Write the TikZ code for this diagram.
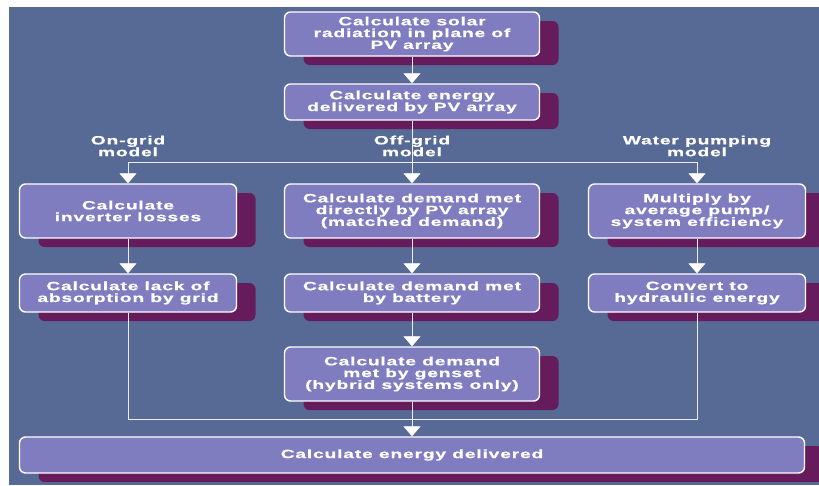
\documentclass[tikz,border=0pt]{standalone}
\usepackage{fontspec}
\setsansfont{Liberation Sans}[FakeStretch=1.6,LetterSpace=7,FakeBold=0.8]
\usepackage{tikz}
\usetikzlibrary{arrows,arrows.meta,shadows}
\definecolor{slate}{RGB}{86,106,149}
\definecolor{lilac}{RGB}{128,124,192}
\definecolor{plum}{RGB}{102,28,92}
\definecolor{pale}{RGB}{236,238,245}

\begin{document}
\begin{tikzpicture}[x=1pt,y=-1pt,node distance=68pt,
  every node/.style={font=\sffamily\bfseries\fontsize{12}{11.8}\selectfont,text=white,align=center,inner sep=0pt},
  main node/.style={rectangle,rounded corners=6pt,draw=white,line width=1.4pt,fill=lilac,minimum width=255pt,minimum height=38pt,
    drop shadow={shadow xshift=19pt,shadow yshift=-9pt,fill=plum,opacity=1}},
  side node/.style={main node,minimum width=217pt},
  model label/.style={},
  link/.style={color=pale,line width=0.8pt},
  flow/.style={link,-{Triangle[width=17pt,length=10pt,fill=white,color=white]}}]

  \useasboundingbox (0,0) rectangle (819,485);
  \fill[slate] (9,7) rectangle (819,485);

  \node[main node,minimum height=44pt] (solar) at (412,34) {Calculate solar\\radiation in plane of\\PV array};
  \node[main node,minimum height=36pt] (energy) [below of=solar] {Calculate energy\\delivered by PV array};

  \node[model label] (offgrid) [below of=energy,node distance=44pt] {Off-grid\\model};
  \node[model label] (ongrid) [left of=offgrid,node distance=284pt] {On-grid\\model};
  \node[model label] (pumping) [right of=offgrid,node distance=285pt] {Water pumping\\model};

  \node[main node,minimum height=54pt] (matched) [below of=energy,node distance=109pt] {Calculate demand met\\directly by PV array\\(matched demand)};
  \node[side node,minimum height=54pt] (inverter) [left of=matched,node distance=284pt] {Calculate\\inverter losses};
  \node[side node,minimum height=54pt] (pumpeff) [right of=matched,node distance=285pt] {Multiply by\\average pump/\\system efficiency};

  \node[main node] (battery) [below of=matched,node distance=82pt] {Calculate demand met\\by battery};
  \node[side node] (absorb) [left of=battery,node distance=284pt] {Calculate lack of\\absorption by grid};
  \node[side node] (hydraulic) [right of=battery,node distance=285pt] {Convert to\\hydraulic energy};

  \node[main node,minimum height=54pt] (genset) [below of=battery,node distance=81pt] {Calculate demand\\met by genset\\(hybrid systems only)};
  \node[main node,minimum width=785pt,minimum height=36pt] (delivered) [below of=genset,node distance=81pt] {Calculate energy delivered};

  \coordinate (fork) at (412,162);
  \coordinate (join) at (412,419);

  \path[flow] (solar) edge (energy)
    (inverter) edge (absorb)
    (matched) edge (battery)
    (pumpeff) edge (hydraulic)
    (battery) edge (genset)
    (genset) edge (delivered);
  \draw[link] (energy) -- (fork);
  \draw[flow] (fork) -- (matched);
  \draw[flow] (fork) -| (inverter.north);
  \draw[flow] (fork) -| (pumpeff.north);
  \draw[link] (absorb) |- (join);
  \draw[link] (hydraulic) |- (join);
\end{tikzpicture}
\end{document}
